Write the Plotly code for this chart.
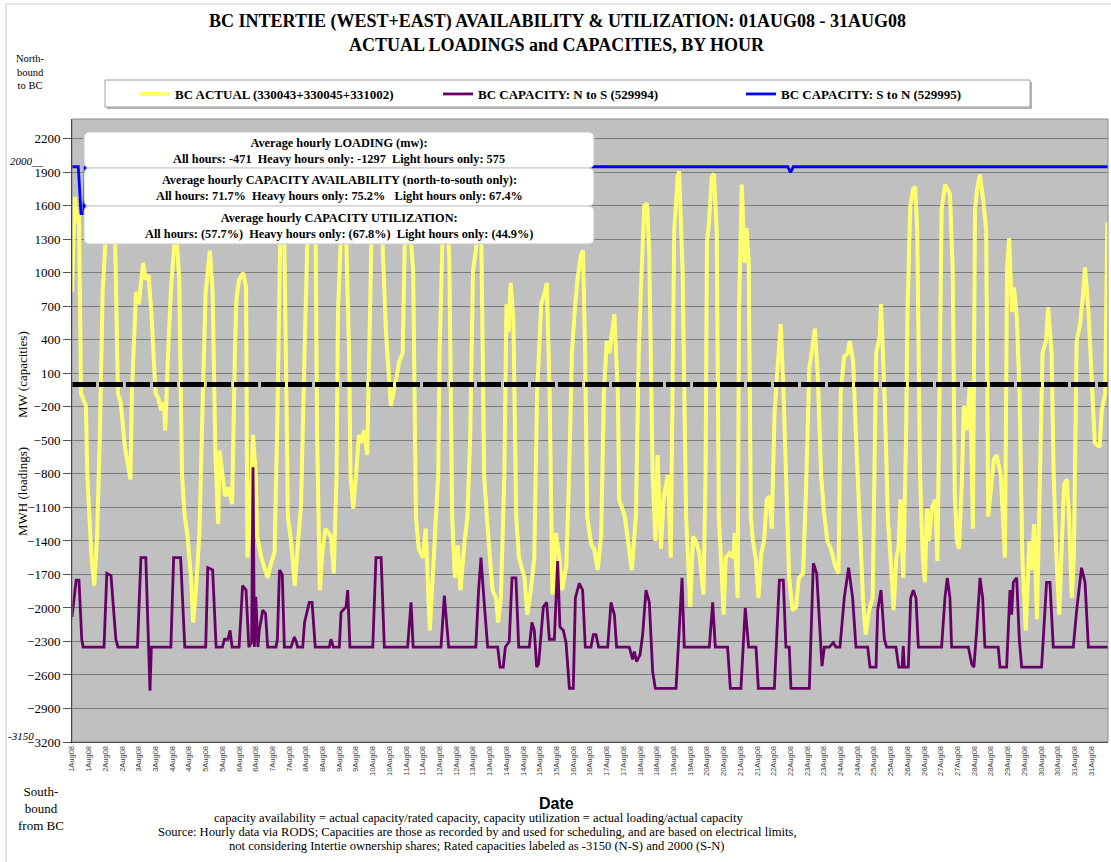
import plotly.graph_objects as go

# ---------------- data ----------------
DAYS = list(range(1, 32))
TICK_HOURS = list(range(0, 744, 12))
TICK_LABELS = [f"{d}Aug08" for d in DAYS for _ in (0, 1)]
Y_TICKS = list(range(-3200, 2201, 300))

ACTUAL_HOURS = [0, 2, 4, 5, 6.5, 8, 10, 11, 14, 16, 18, 20, 22, 24, 27, 31, 33, 35, 38, 40, 42, 43, 46, 48, 51, 53, 55, 57, 59, 60, 62, 64, 66, 67, 69, 71, 73.5, 75, 77, 79, 81, 83, 85.5, 87, 89, 91.5, 94, 96, 99, 101, 103, 105, 106, 108, 110, 112.5, 115, 117, 118, 120, 123, 125, 126, 128, 130, 132, 133, 136, 138, 140.5, 143, 145.5, 147.5, 149.5, 151, 152.5, 154, 155, 157.3, 160, 162, 164.5, 167, 169, 172, 175, 176, 178, 180, 182, 186, 188, 190, 191, 193, 195, 197, 199, 200, 202, 204, 206, 207.5, 210, 212, 214, 215, 218, 223, 225.5, 229, 233, 235, 237.5, 239, 241, 245, 247, 249, 252, 254, 257, 260, 263, 264, 266, 269, 271, 273, 275, 277, 279, 282, 284, 286, 288, 290, 292, 294, 296, 298.5, 300, 302, 304.5, 306, 308, 310.5, 312, 313.5, 315, 317, 319, 321, 325, 327, 329.5, 332, 334, 337, 339, 341, 343, 345, 347.5, 350, 352, 355, 357, 359, 361, 363, 365.5, 367, 368.5, 370, 373, 375, 377.5, 380, 382, 384, 386, 389.5, 392, 393, 397, 399, 402, 405, 407, 408.5, 411, 413, 414.5, 417, 419, 420.5, 423, 425, 428, 430, 432.5, 435, 436, 438.5, 441, 444, 446, 448, 450.5, 453.5, 455, 456, 457.5, 459.5, 461, 463, 464.5, 466, 468, 469.5, 472, 475, 476, 478, 479, 481, 483, 484.5, 486, 487.5, 489, 491, 493, 495, 497, 499, 501, 502.5, 504.5, 507, 509, 511, 513, 515, 517.5, 520, 522, 525, 527, 529.5, 532, 533.5, 535.5, 538, 540, 542.5, 545, 548, 550.5, 552, 554.5, 557, 558.5, 561, 563, 565.5, 568, 570, 572.5, 575, 577.5, 580, 581, 583.5, 586, 588, 590, 592, 593.5, 595, 597, 599, 600, 602, 604, 605.5, 607, 609, 611, 612.5, 614, 615.5, 617.5, 620, 621.5, 623, 624.5, 627, 628.5, 630.5, 632.5, 634, 635.5, 637, 639, 640.5, 642.5, 645, 647, 648.5, 650, 652, 654.5, 656.5, 658, 659.5, 662, 664, 667, 670, 671.5, 673, 675, 676.5, 678.5, 680.5, 682.5, 685, 687.5, 689, 691, 693, 695, 697, 699.5, 701, 703.5, 705, 707, 709, 710.5, 712.5, 714.5, 716, 718, 719.5, 721.5, 724, 726, 727.5, 730, 732.5, 734.5, 738, 739.5, 742, 743.5]
ACTUAL_MW = [830, 1680, 1455, 1530, -80, -140, -190, -810, -1550, -1800, -1360, -450, 830, 1270, 1700, 1270, -80, -160, -560, -700, -850, -80, 830, 720, 1090, 940, 980, 650, 250, -80, -120, -230, -160, -410, 280, 830, 1270, 1350, 940, -810, -1180, -1360, -1730, -2130, -1840, -1330, -80, 830, 1200, 830, -630, -1250, -590, -810, -1000, -920, -1070, 280, 760, 940, 1000, 870, -1550, -1180, -450, -810, -1360, -1550, -1620, -1730, -1600, -1500, -300, 1270, 1700, 1270, -80, -1180, -1400, -1800, -1470, -1070, 280, 1270, 1750, 1270, -450, -1840, -1470, -1290, -1360, -1690, -810, 650, 1270, 1650, 1270, 280, -810, -1110, -810, -450, -520, -410, -630, 650, 1270, 1650, 1270, 470, -190, 60, 210, 280, 1270, 1700, 1020, -1180, -1470, -1550, -1290, -2200, -1550, -810, 280, 1270, 1750, 1090, -1180, -1730, -1440, -1840, -1400, -1180, -450, 1020, 1200, 1500, 1270, -810, -1290, -1550, -1840, -1910, -2130, -1910, -810, 720, 470, 910, 580, -1180, -1550, -1730, -2060, -1840, -1550, -80, 720, 800, 910, -80, -1880, -1330, -1550, -1840, -1620, -810, 280, 650, 940, 1160, 1200, 280, -1180, -1440, -1470, -1660, -1360, -80, 390, 280, 630, -80, -1030, -1180, -1360, -1660, -1180, 280, 830, 1600, 1620, 1200, -810, -1400, -630, -1470, -1000, -810, -1550, 1380, 1860, 1910, 1020, -1180, -1990, -1360, -1400, -1510, -1880, -810, 1270, 1460, 1860, 1890, 1380, -1180, -1550, -2060, -1550, -1510, -1550, -1330, -1910, 650, 1790, 1090, 1400, 1090, -1180, -1400, -1550, -1910, -1510, -1400, -1030, -1000, -1290, -270, 210, 540, -80, -810, -1730, -2020, -1990, -1730, -1690, -1000, 140, 360, 500, 100, -810, -1140, -1400, -1470, -1620, -1690, -80, 250, 280, 390, 210, -450, -1180, -1910, -2240, -2020, -1910, 280, 430, 720, -80, -1220, -1580, -2020, -1550, -1470, -1030, -1730, -450, 650, 1600, 1750, 1770, 1380, -810, -1550, -1770, -1110, -1400, -1110, -1030, -1580, -80, 1570, 1790, 1750, 1710, 1020, -1000, -1400, -1470, -890, -190, -410, 30, -1290, 1570, 1750, 1880, 1640, 1380, -1180, -1000, -670, -630, -810, -1550, 1020, 1310, 650, 870, 610, -80, -1550, -2200, -1400, -1660, -1250, -2100, -740, 280, 390, 690, 280, -810, -1550, -2060, -1550, -890, -850, -1180, -1910, -1550, 390, 540, 800, 1050, 650, -80, -520, -560, -230, -80, 1450]

CAP_NS_HOURS = [0, 3, 5, 7, 8, 23, 25, 28, 31.5, 33, 47, 49.5, 53, 55, 56, 57, 71, 73, 78, 81, 96, 97.5, 101, 103.5, 108, 109.5, 112, 113.5, 115, 120, 122.5, 125, 127, 129, 130, 131, 132, 133.5, 134.5, 137, 139, 140.5, 146.5, 147.5, 149, 151, 152.5, 157.3, 158.5, 159.7, 161, 162, 165.7, 167, 170.4, 172.4, 174.7, 184.8, 186, 187.7, 192, 193.2, 196.8, 198, 199.6, 216, 218.3, 222, 224.3, 241, 243.5, 245, 265, 267.4, 270.5, 290, 292, 293.7, 296, 298.5, 305.7, 307.4, 309.7, 311.2, 314, 316, 318.8, 320.8, 328.4, 330.3, 332, 333.7, 335.1, 336.8, 338.5, 340.9, 342.8, 346.4, 348.8, 350.4, 352.8, 354.8, 357.2, 360, 361.5, 364.3, 366.7, 368.6, 372.7, 374.4, 376.3, 378.2, 384.7, 387.1, 389.5, 391.1, 400.2, 402.6, 403.8, 405.5, 407.9, 409.8, 412.2, 414.6, 417, 418.9, 433.8, 435.7, 438.1, 439.7, 457.7, 460.1, 462, 470.8, 472.8, 480.4, 482.1, 483.5, 485.9, 491.2, 492.9, 504.4, 506, 508, 510.8, 512.7, 515.1, 516.3, 529.5, 530.7, 532.4, 534.8, 537.2, 538.6, 540.3, 543.9, 546.7, 548.6, 551.5, 554.6, 557.7, 560.6, 563, 571.4, 573.1, 577.4, 578.6, 581, 583.4, 585, 591.7, 593.7, 596.1, 597, 597.7, 600.6, 602.3, 604.2, 606.1, 607.8, 624.5, 626.9, 628.6, 630.5, 631.7, 643.7, 646.1, 647.7, 649.7, 652.1, 654, 655.6, 665.2, 666.4, 671.2, 672.4, 673.6, 674.8, 676, 678.4, 680.3, 682, 696.3, 697.5, 699.9, 702.3, 704.7, 719.1, 721.5, 725, 727.5, 729.9, 744]
CAP_NS_MW = [-2080, -1750, -1750, -2280, -2350, -2350, -1690, -1710, -2280, -2350, -2350, -1550, -1550, -2350, -2740, -2350, -2350, -1550, -1550, -2350, -2350, -1640, -1660, -2350, -2350, -2280, -2280, -2200, -2350, -2350, -1800, -1840, -2350, -2310, -740, -2350, -1900, -2350, -2200, -2020, -2050, -2350, -2350, -2280, -1660, -1700, -2350, -2350, -2300, -2260, -2300, -2350, -2350, -2130, -1950, -1950, -2350, -2350, -2280, -2350, -2350, -2040, -1990, -1840, -2350, -2350, -1550, -1550, -2350, -2350, -1950, -2350, -2350, -1890, -2350, -2350, -1840, -1550, -1950, -2350, -2350, -2530, -2530, -2350, -2300, -1730, -1730, -2350, -2350, -2130, -2200, -2530, -2500, -2200, -1990, -1950, -2280, -2280, -1580, -2170, -2200, -2310, -2720, -2720, -1910, -1780, -1840, -2350, -2350, -2240, -2240, -2350, -2350, -1950, -2060, -2350, -2350, -2460, -2390, -2480, -2420, -2240, -1840, -1950, -2570, -2720, -2720, -2280, -1730, -2350, -2350, -1950, -2350, -2350, -2720, -2720, -2350, -2000, -2350, -2350, -2720, -2720, -2280, -1750, -1750, -2350, -2350, -2720, -2720, -2280, -1600, -1690, -2280, -2520, -2350, -2350, -2310, -2350, -2350, -1910, -1640, -1910, -2350, -2350, -2530, -2530, -2020, -1840, -2280, -2350, -2350, -2530, -2530, -2340, -2530, -2530, -1910, -1840, -1910, -2350, -2350, -1910, -1730, -1910, -2350, -2350, -2500, -2530, -2200, -1730, -1910, -2350, -2350, -2530, -2530, -2130, -1840, -2060, -1770, -1730, -2280, -2530, -2530, -2280, -1770, -1770, -2350, -2350, -2020, -1640, -1770, -2350, -2350]

CAP_SN_HOURS = [0, 4.5, 6.5, 8.5, 9.5, 514, 516, 518, 744]
CAP_SN_MW = [1950, 1950, 1530, 1530, 1950, 1950, 1900, 1950, 1950]

RATED_NS = -3150
RATED_SN = 2000

# ---------------- layout helpers ----------------
W, H = 1111, 862
L, R, T, B = 72, 1108, 119, 742
Y_MIN = -3200
Y_MAX = Y_MIN + (B - T) * 8.953


def px(xp):
    return (xp - L) / (R - L)


def py(yp):
    return (B - yp) / (B - T)


def rrect(x0, y0, x1, y1, r=6):
    X0, X1, YT, YB = px(x0), px(x1), py(y0), py(y1)
    rx, ry = r / (R - L), r / (B - T)
    return (f"M{X0+rx},{YT} L{X1-rx},{YT} Q{X1},{YT} {X1},{YT-ry} "
            f"L{X1},{YB+ry} Q{X1},{YB} {X1-rx},{YB} L{X0+rx},{YB} "
            f"Q{X0},{YB} {X0},{YB+ry} L{X0},{YT-ry} Q{X0},{YT} {X0+rx},{YT} Z")


SERIF = "Liberation Serif, Times New Roman, serif"
SANS = "Liberation Sans, Arial, sans-serif"

fig = go.Figure()
fig.add_trace(go.Scatter(x=ACTUAL_HOURS, y=ACTUAL_MW, mode="lines",
                         name="<b>BC ACTUAL (330043+330045+331002)</b>",
                         line=dict(color="#ffff6e", width=4)))
fig.add_trace(go.Scatter(x=CAP_NS_HOURS, y=CAP_NS_MW, mode="lines",
                         name="<b>BC CAPACITY: N to S (529994)</b>",
                         line=dict(color="#660066", width=2.8)))
fig.add_trace(go.Scatter(x=CAP_SN_HOURS, y=CAP_SN_MW, mode="lines",
                         name="<b>BC CAPACITY: S to N (529995)</b>",
                         line=dict(color="#0000ff", width=2.8)))

shapes = []
shapes.append(dict(type="rect", xref="paper", yref="paper",
                   x0=px(6), x1=px(1116), y0=py(866), y1=py(4),
                   line=dict(color="#c8c8c8", width=1), fillcolor="rgba(0,0,0,0)", layer="below"))
shapes.append(dict(type="rect", xref="paper", yref="paper",
                   x0=px(107), x1=px(1032), y0=py(109), y1=py(82),
                   line=dict(width=0), fillcolor="#b4b4b4", layer="below"))
shapes.append(dict(type="rect", xref="paper", yref="paper",
                   x0=px(105), x1=px(1030), y0=py(107), y1=py(80),
                   line=dict(color="#a0a0a0", width=1), fillcolor="white", layer="below"))
shapes.append(dict(type="line", xref="paper", yref="y", x0=0, x1=1, y0=0, y1=0,
                   line=dict(color="black", width=5, dash="24px,3px")))
shapes.append(dict(type="rect", xref="paper", yref="paper", x0=0, x1=1, y0=0, y1=1,
                   line=dict(color="#8c8c8c", width=1), fillcolor="rgba(0,0,0,0)"))
BOXES = [(132, 168), (168, 206), (206, 244)]
for (y0, y1) in BOXES:
    shapes.append(dict(type="path", xref="paper", yref="paper", path=rrect(84, y0, 594, y1),
                       fillcolor="white", line=dict(color="#c8c8c8", width=1)))

NB = "\u00a0"
box_texts = [
    f"<b>Average hourly LOADING (mw):<br>All hours: -471{NB}{NB}Heavy hours only: -1297{NB}{NB}Light hours only: 575</b>",
    f"<b>Average hourly CAPACITY AVAILABILITY (north-to-south only):<br>All hours: 71.7%{NB}{NB}Heavy hours only: 75.2%{NB}{NB}{NB}Light hours only: 67.4%</b>",
    f"<b>Average hourly CAPACITY UTILIZATION:<br>All hours: (57.7%){NB}{NB}Heavy hours only: (67.8%){NB}{NB}Light hours only: (44.9%)</b>",
]
annotations = []
for txt, (y0, y1) in zip(box_texts, BOXES):
    annotations.append(dict(text=txt, xref="paper", yref="paper", x=px(339), y=py((y0 + y1) / 2 + 1),
                            xanchor="center", yanchor="middle", showarrow=False,
                            font=dict(family=SERIF, size=12.3, color="black")))


def add_text(text, x, y, size, xanchor="center", yanchor="middle", angle=0, family=SERIF, yref="paper", color="black"):
    annotations.append(dict(text=text, xref="paper", yref=yref, x=px(x), y=(py(y) if yref == "paper" else y),
                            xanchor=xanchor, yanchor=yanchor, showarrow=False, textangle=angle,
                            font=dict(family=family, size=size, color=color)))


add_text("<b>BC INTERTIE (WEST+EAST) AVAILABILITY & UTILIZATION: 01AUG08 - 31AUG08</b>", 557, 22, 18)
add_text("<b>ACTUAL LOADINGS and CAPACITIES, BY HOUR</b>", 557, 45, 18)
add_text("North-<br>bound<br>to BC", 14, 72, 10.5, xanchor="left")
add_text("South-<br>bound<br>from BC", 16, 808, 13, xanchor="left")
add_text("MW (capacities)", 22, 375, 13, angle=-90)
add_text("MWH (loadings)", 22, 492, 13, angle=-90)
add_text(f"<i>{RATED_SN}__</i>", 8, RATED_SN, 11, xanchor="left", yref="y")
add_text(f"<i>{RATED_NS}</i>", 6, RATED_NS, 11, xanchor="left", yref="y")
add_text("<b>Date</b>", 556, 803, 16, family=SANS)
add_text("capacity availability = actual capacity/rated capacity, capacity utilization = actual loading/actual capacity",
         478, 818, 12.6)
add_text("Source: Hourly data via RODS; Capacities are those as recorded by and used for scheduling, and are based on electrical limits,",
         477, 832, 12.6)
add_text("not considering Intertie ownership shares; Rated capacities labeled as -3150 (N-S) and 2000 (S-N)",
         477, 846, 12.6)

fig.update_layout(
    template="none",
    width=W, height=H,
    margin=dict(l=L, r=W - R, t=T, b=H - B, pad=0, autoexpand=False),
    paper_bgcolor="white", plot_bgcolor="#c0c0c0",
    font=dict(family=SERIF, color="black"),
    showlegend=True,
    legend=dict(orientation="h", xref="container", yref="container",
                x=135 / W, y=1 - 94 / H, xanchor="left", yanchor="middle",
                bgcolor="rgba(0,0,0,0)", borderwidth=0, entrywidth=258, entrywidthmode="pixels",
                font=dict(family=SERIF, size=13, color="black"), itemwidth=30),
    shapes=shapes, annotations=annotations,
    xaxis=dict(range=[0, 744], tickmode="array", tickvals=TICK_HOURS, ticktext=TICK_LABELS,
               tickangle=-90, tickfont=dict(family=SANS, size=7.5, color="#404040"),
               showgrid=False, zeroline=False, showline=True, linecolor="black", linewidth=1,
               ticks="", automargin=False, fixedrange=True),
    yaxis=dict(range=[Y_MIN, Y_MAX], tickmode="array", tickvals=Y_TICKS,
               tickfont=dict(family=SERIF, size=13, color="black"),
               showgrid=True, gridcolor="#7a7a7a", gridwidth=1, zeroline=False,
               showline=True, linecolor="black", linewidth=1, ticks="outside", ticklen=8,
               tickcolor="#555555", automargin=False, fixedrange=True),
)

# the page body has a default 8px margin; remove it so the figure fills the 1111x862 window exactly
fig.write_html("out.html", config={"displayModeBar": False},
               post_script="document.body.style.margin='0';document.body.style.overflow='hidden';")
